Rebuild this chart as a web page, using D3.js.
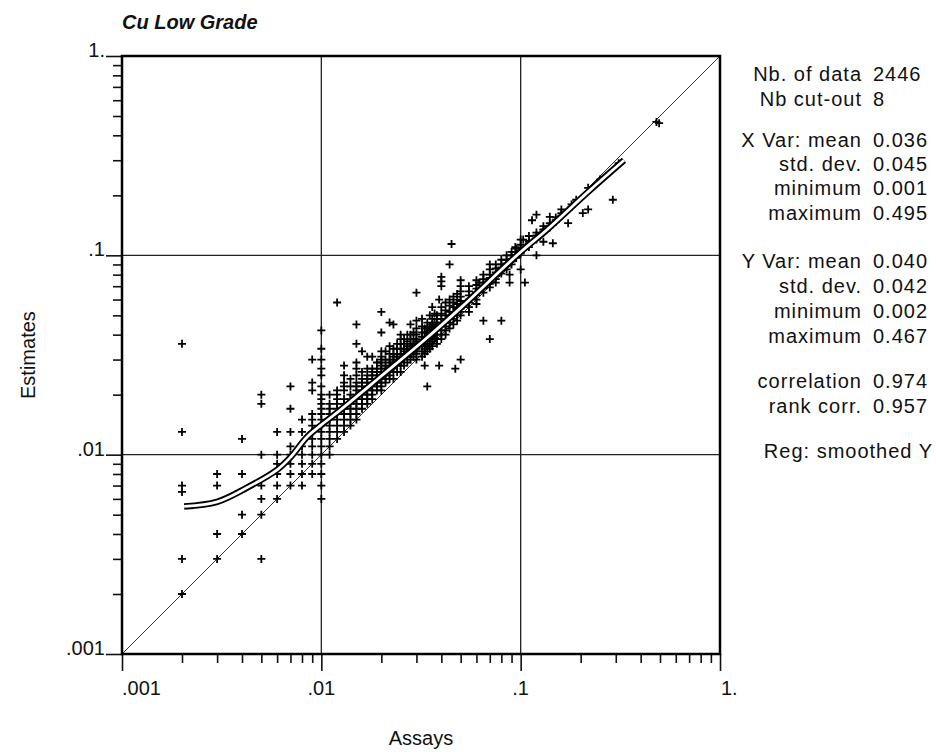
<!DOCTYPE html>
<html>
<head>
<meta charset="utf-8">
<script src="https://cdn.jsdelivr.net/npm/d3@7"></script>
<style>
  body { margin: 0; background: #fff; }
  text { font-family: "Liberation Sans", Arial, Helvetica, sans-serif; fill: #111; }
</style>
</head>
<body>
<svg id="chart" width="936" height="752"></svg>
<script>
// assay values (x) and the estimates read for each of them (y)
var assays = [0.002, 0.003, 0.004, 0.005, 0.006, 0.007, 0.008, 0.009, 0.01,
  0.011, 0.012, 0.013, 0.014, 0.015, 0.016, 0.017, 0.018, 0.019, 0.02,
  0.021, 0.022, 0.023, 0.024, 0.025, 0.026, 0.027, 0.028, 0.029, 0.03,
  0.032, 0.033, 0.034, 0.035, 0.036, 0.037, 0.038, 0.039, 0.04, 0.042, 0.044, 0.045,
  0.046, 0.047, 0.048, 0.05, 0.055, 0.06, 0.062, 0.065, 0.07, 0.075,
  0.08, 0.085, 0.088, 0.09, 0.094, 0.095, 0.1, 0.103, 0.105, 0.11,
  0.114, 0.12, 0.13, 0.14, 0.145, 0.15, 0.16, 0.173, 0.18, 0.19,
  0.205, 0.218, 0.25, 0.29, 0.31, 0.48, 0.495];

var estimates = [
  [0.036, 0.013, 0.007, 0.0065, 0.003, 0.002],
  [0.008, 0.007, 0.004, 0.003],
  [0.012, 0.008, 0.005, 0.004],
  [0.02, 0.018, 0.01, 0.007, 0.006, 0.005, 0.003],
  [0.013, 0.01, 0.009, 0.008, 0.007, 0.006],
  [0.022, 0.017, 0.013, 0.011, 0.01, 0.009, 0.008, 0.007],
  [0.015, 0.013, 0.011, 0.01, 0.009, 0.008, 0.007],
  [0.03, 0.023, 0.021, 0.016, 0.015, 0.014, 0.013, 0.012, 0.011, 0.01, 0.009, 0.008],
  [0.042, 0.034, 0.03, 0.027, 0.025, 0.022, 0.02, 0.019, 0.018, 0.017, 0.016, 0.015, 0.014, 0.013, 0.012, 0.011, 0.01, 0.009, 0.008, 0.007, 0.006],
  [0.02, 0.018, 0.017, 0.016, 0.015, 0.014, 0.013, 0.012, 0.011, 0.01],
  [0.058, 0.021, 0.02, 0.019, 0.018, 0.017, 0.016, 0.015, 0.014, 0.013, 0.012],
  [0.028, 0.025, 0.023, 0.022, 0.021, 0.019, 0.018, 0.017, 0.016, 0.015, 0.014, 0.013],
  [0.024, 0.022, 0.02, 0.019, 0.018, 0.017, 0.016, 0.015, 0.014],
  [0.045, 0.036, 0.029, 0.027, 0.025, 0.023, 0.022, 0.021, 0.02, 0.019, 0.018, 0.017, 0.016, 0.015],
  [0.033, 0.026, 0.024, 0.023, 0.022, 0.021, 0.02, 0.019, 0.018, 0.017],
  [0.031, 0.027, 0.025, 0.024, 0.023, 0.022, 0.021, 0.02, 0.019, 0.018],
  [0.031, 0.027, 0.026, 0.025, 0.024, 0.023, 0.022, 0.021, 0.02, 0.019],
  [0.029, 0.027, 0.026, 0.025, 0.024, 0.023, 0.022, 0.021],
  [0.052, 0.041, 0.033, 0.031, 0.03, 0.029, 0.028, 0.027, 0.026, 0.025, 0.024, 0.023, 0.022, 0.021],
  [0.033, 0.03, 0.028, 0.027, 0.026, 0.025, 0.024, 0.023],
  [0.046, 0.035, 0.032, 0.03, 0.029, 0.028, 0.027, 0.026, 0.025, 0.024],
  [0.045, 0.034, 0.032, 0.031, 0.03, 0.029, 0.028, 0.027, 0.026, 0.024],
  [0.036, 0.034, 0.032, 0.031, 0.03, 0.029, 0.028, 0.026],
  [0.04, 0.038, 0.036, 0.034, 0.032, 0.031, 0.03, 0.029, 0.028, 0.026],
  [0.038, 0.036, 0.034, 0.033, 0.032, 0.031, 0.03, 0.028],
  [0.04, 0.037, 0.035, 0.034, 0.033, 0.032, 0.031, 0.029],
  [0.045, 0.04, 0.038, 0.036, 0.034, 0.033, 0.032, 0.031, 0.03],
  [0.041, 0.038, 0.036, 0.035, 0.034, 0.033, 0.031],
  [0.065, 0.047, 0.043, 0.04, 0.038, 0.037, 0.036, 0.035, 0.034, 0.033, 0.032, 0.03],
  [0.048, 0.044, 0.041, 0.039, 0.037, 0.035, 0.033, 0.031],
  [0.043, 0.041, 0.039, 0.038, 0.036, 0.034, 0.032, 0.028],
  [0.046, 0.043, 0.041, 0.039, 0.037, 0.035, 0.033, 0.022],
  [0.05, 0.044, 0.042, 0.04, 0.038, 0.036, 0.034],
  [0.055, 0.048, 0.045, 0.043, 0.041, 0.039, 0.037, 0.035],
  [0.051, 0.046, 0.044, 0.042, 0.04, 0.038],
  [0.05, 0.048, 0.046, 0.044, 0.042, 0.04, 0.038, 0.036],
  [0.06, 0.028],
  [0.078, 0.074, 0.07, 0.055, 0.051, 0.048, 0.046, 0.044, 0.042, 0.04, 0.038],
  [0.058, 0.053, 0.05, 0.048, 0.046, 0.044, 0.042, 0.04],
  [0.09, 0.06, 0.056, 0.052, 0.05, 0.048, 0.046, 0.043],
  [0.114],
  [0.062, 0.058, 0.055, 0.052, 0.05, 0.048, 0.045],
  [0.027],
  [0.064, 0.06, 0.057, 0.054, 0.052, 0.05, 0.047],
  [0.075, 0.07, 0.066, 0.062, 0.059, 0.056, 0.054, 0.052, 0.05, 0.03],
  [0.07, 0.066, 0.063, 0.06, 0.058, 0.055, 0.052],
  [0.075, 0.071, 0.068, 0.065, 0.063, 0.06, 0.057],
  [0.073],
  [0.08, 0.076, 0.073, 0.07, 0.068, 0.065, 0.047],
  [0.09, 0.085, 0.08, 0.077, 0.074, 0.072, 0.069, 0.038],
  [0.09, 0.086, 0.082, 0.079, 0.076, 0.073],
  [0.095, 0.09, 0.087, 0.084, 0.081, 0.047],
  [0.1, 0.095, 0.091, 0.088, 0.085],
  [0.08, 0.073],
  [0.104, 0.1, 0.096, 0.093, 0.09],
  [0.11],
  [0.108, 0.104, 0.1, 0.097],
  [0.12, 0.113, 0.109, 0.106, 0.104, 0.102, 0.085],
  [0.12],
  [0.073],
  [0.125, 0.118, 0.115, 0.113, 0.11],
  [0.15],
  [0.16, 0.13, 0.126, 0.123, 0.12, 0.1],
  [0.14, 0.135, 0.132, 0.13, 0.117],
  [0.156, 0.145, 0.141, 0.138],
  [0.115],
  [0.155, 0.15, 0.147],
  [0.17, 0.163, 0.158],
  [0.145],
  [0.18, 0.175],
  [0.19],
  [0.163],
  [0.218, 0.17],
  [0.24],
  [0.19],
  [0.29],
  [0.467],
  [0.46]
];

// smoothed regression of Y on X
var regX = [0.00205, 0.003, 0.0042, 0.006, 0.007, 0.0085, 0.01, 0.0125, 0.02, 0.033, 0.05, 0.1, 0.135, 0.22, 0.33];
var regY = [0.0055, 0.0058, 0.0068, 0.0084, 0.0097, 0.0123, 0.0141, 0.0168, 0.0248, 0.0377, 0.0545, 0.104, 0.134, 0.21, 0.30];

var majorTicks = [0.001, 0.01, 0.1, 1];
var tickLabels = [".001", ".01", ".1", "1."];
var gridValues = [0.01, 0.1];

var statLabels = ["Nb. of data", "Nb cut-out", "X Var: mean", "std. dev.", "minimum", "maximum",
  "Y Var: mean", "std. dev.", "minimum", "maximum", "correlation", "rank corr."];
var statValues = ["2446", "8", "0.036", "0.045", "0.001", "0.495",
  "0.040", "0.042", "0.002", "0.467", "0.974", "0.957"];
var statRows = [81, 106, 147, 171, 195, 220, 268, 293, 318, 343, 388, 413];

var svg = d3.select("#chart");
var plot = {left: 122, right: 720, top: 56, bottom: 654};

var x = d3.scaleLog().domain([0.001, 1]).range([plot.left, plot.right]);
var y = d3.scaleLog().domain([0.001, 1]).range([plot.bottom, plot.top]);

// minor ticks 2..9 in each decade
var minorTicks = [];
[0.001, 0.01, 0.1].forEach(function(d) {
  for (var k = 2; k <= 9; k++) minorTicks.push(d * k);
});

function tickAxis(axis, values, size) {
  return axis.tickValues(values).tickSize(size).tickFormat("");
}

var gx = svg.append("g").attr("transform", "translate(0," + plot.bottom + ")");
gx.call(tickAxis(d3.axisBottom(x), minorTicks, 9));
gx.append("g").call(tickAxis(d3.axisBottom(x), majorTicks, 17));
var gy = svg.append("g").attr("transform", "translate(" + plot.left + ",0)");
gy.call(tickAxis(d3.axisLeft(y), minorTicks, 9));
gy.append("g").call(tickAxis(d3.axisLeft(y), majorTicks, 16));
svg.selectAll(".domain").remove();
svg.selectAll(".tick line").attr("stroke", "#111").attr("stroke-width", 1.6);

// grid lines
gridValues.forEach(function(v) {
  svg.append("line").attr("x1", x(v)).attr("x2", x(v)).attr("y1", plot.top).attr("y2", plot.bottom)
    .attr("stroke", "#222").attr("stroke-width", 1.3);
  svg.append("line").attr("x1", plot.left).attr("x2", plot.right).attr("y1", y(v)).attr("y2", y(v))
    .attr("stroke", "#222").attr("stroke-width", 1.3);
});

// first bisector
svg.append("line")
  .attr("x1", x(0.001)).attr("y1", y(0.001)).attr("x2", x(1)).attr("y2", y(1))
  .attr("stroke", "#333").attr("stroke-width", 1);

// scatter of crosses
var points = [];
assays.forEach(function(a, i) {
  estimates[i].forEach(function(e) { points.push([a, e]); });
});
svg.append("g").selectAll("path")
  .data(points)
  .enter()
  .append("path")
  .attr("transform", function(d) { return "translate(" + x(d[0]) + "," + y(d[1]) + ")"; })
  .attr("d", "M-4,0H4M0,-4V4")
  .attr("stroke", "#000")
  .attr("stroke-width", 1.8);

// regression curve drawn as a double line
var reg = regX.map(function(v, i) { return [v, regY[i]]; });
var line = d3.line()
  .x(function(d) { return x(d[0]); })
  .y(function(d) { return y(d[1]); })
  .curve(d3.curveCatmullRom.alpha(0.5));
svg.append("path").datum(reg).attr("d", line)
  .attr("fill", "none").attr("stroke", "#000").attr("stroke-width", 6.5);
svg.append("path").datum(reg).attr("d", line)
  .attr("fill", "none").attr("stroke", "#fff").attr("stroke-width", 2.8);

// frame
svg.append("rect")
  .attr("x", plot.left).attr("y", plot.top)
  .attr("width", plot.right - plot.left).attr("height", plot.bottom - plot.top)
  .attr("fill", "none").attr("stroke", "#000").attr("stroke-width", 2.5);

// tick labels
majorTicks.forEach(function(v, i) {
  var last = majorTicks.length - 1;
  svg.append("text")
    .attr("x", i === last ? x(v) + 1 : x(v))
    .attr("y", 695)
    .attr("text-anchor", (i === 0 || i === last) ? "start" : "middle")
    .style("font-size", "20px")
    .text(tickLabels[i]);
  svg.append("text")
    .attr("x", 105)
    .attr("y", y(v) + 1)
    .attr("text-anchor", "end")
    .style("font-size", "20px")
    .text(tickLabels[i]);
});

// titles
svg.append("text")
  .attr("x", 122).attr("y", 29)
  .style("font-size", "20px").style("font-weight", "bold").style("font-style", "italic")
  .text("Cu Low Grade");
svg.append("text")
  .attr("x", x(0.0316)).attr("y", 745)
  .attr("text-anchor", "middle")
  .style("font-size", "20px")
  .text("Assays");
svg.append("text")
  .attr("transform", "translate(35," + y(0.0316) + ") rotate(-90)")
  .attr("text-anchor", "middle")
  .style("font-size", "20px")
  .text("Estimates");

// statistics panel
var stats = svg.append("g").style("font-size", "20px").style("letter-spacing", "1px");
statLabels.forEach(function(s, i) {
  stats.append("text").attr("x", 862).attr("y", statRows[i]).attr("text-anchor", "end").text(s);
  stats.append("text").attr("x", 873).attr("y", statRows[i]).text(statValues[i]);
});
stats.append("text").attr("x", 933).attr("y", 458).attr("text-anchor", "end").text("Reg: smoothed Y");
</script>
</body>
</html>
